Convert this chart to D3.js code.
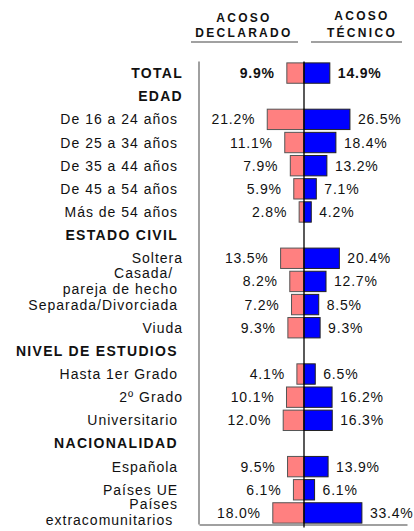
<!DOCTYPE html>
<html>
<head>
<meta charset="utf-8">
<script src="https://cdn.jsdelivr.net/npm/d3@7"></script>
<style>
  body { margin: 0; background: #fff; }
  text { font-family: "Liberation Sans", Arial, sans-serif; white-space: pre; }
</style>
</head>
<body>
<div id="chart"></div>
<script>
// row labels (trailing spaces kept as in the original layout)
var categories = [
  "TOTAL", "EDAD",
  "De 16 a 24 años ", "De 25 a 34 años ", "De 35 a 44 años ", "De 45 a 54 años ", "Más de 54 años ",
  "ESTADO CIVIL ",
  "Soltera", "Casada/  \npareja de hecho ", "Separada/Divorciada ", "Viuda",
  "NIVEL DE ESTUDIOS ",
  "Hasta 1er Grado ", "2º Grado", "Universitario ",
  "NACIONALIDAD ",
  "Española ", "Países UE ", "Países \nextracomunitarios  "
];
var headerRows = ["TOTAL", "EDAD", "ESTADO CIVIL ", "NIVEL DE ESTUDIOS ", "NACIONALIDAD "];

var declarado = [9.9, null, 21.2, 11.1, 7.9, 5.9, 2.8, null, 13.5, 8.2, 7.2, 9.3, null, 4.1, 10.1, 12.0, null, 9.5, 6.1, 18.0];
var tecnico = [14.9, null, 26.5, 18.4, 13.2, 7.1, 4.2, null, 20.4, 12.7, 8.5, 9.3, null, 6.5, 16.2, 16.3, null, 13.9, 6.1, 33.4];

var columnTitles = [["ACOSO", "DECLARADO"], ["ACOSO", "TÉCNICO"]];

var svgWidth = 414;
var svgHeight = 531;

var svg = d3.select("#chart")
  .append("svg")
  .attr("width", svgWidth)
  .attr("height", svgHeight);

var x = d3.scaleLinear()
  .domain([-60, 60])
  .range([200, 408]);

var y = d3.scaleBand()
  .domain(d3.range(categories.length))
  .range([61.5, 524.5])
  .paddingInner(0.12)
  .paddingOuter(0.06);

var rowMid = i => y(i) + y.bandwidth() / 2;

// column headers
var headerX = [244, 362];
var headerY = [[21.5, 37], [20, 36.5]];
columnTitles.forEach(function (lines, k) {
  lines.forEach(function (line, j) {
    svg.append("text")
      .attr("x", headerX[k])
      .attr("y", headerY[k][j])
      .attr("text-anchor", "middle")
      .style("font-size", "12px")
      .style("font-weight", "bold")
      .style("letter-spacing", "2.3px")
      .attr("fill", "#111")
      .text(line);
  });
});
svg.append("line").attr("x1", 191).attr("x2", 298).attr("y1", 42).attr("y2", 42)
  .attr("stroke", "#444").attr("stroke-width", 1.2);
svg.append("line").attr("x1", 311).attr("x2", 402).attr("y1", 42).attr("y2", 42)
  .attr("stroke", "#444").attr("stroke-width", 1.2);

// left separator and bottom axis
svg.append("line")
  .attr("x1", x(-60) - 1).attr("x2", x(-60) - 1)
  .attr("y1", y.range()[0]).attr("y2", y.range()[1])
  .attr("stroke", "#808080").attr("stroke-width", 1.5);

var bottomAxis = d3.axisBottom(x).tickValues([]).tickSizeOuter(0);
var axisG = svg.append("g")
  .attr("transform", `translate(-1, ${y.range()[1]})`)
  .call(bottomAxis);
axisG.select(".domain").attr("stroke", "#808080").attr("stroke-width", 1.5);

// row labels
var labels = svg.append("g");
categories.forEach(function (c, i) {
  var isHeader = headerRows.indexOf(c) >= 0;
  var parts = c.split("\n");
  var t = labels.append("text")
    .attr("text-anchor", "end")
    .style("font-size", "14px")
    .style("font-weight", isHeader ? "bold" : "normal")
    .style("letter-spacing", isHeader ? "1.3px" : "1px")
    .attr("fill", "#111");
  if (parts.length === 1) {
    t.append("tspan").attr("x", 183).attr("y", rowMid(i) + 5).text(parts[0]);
  } else {
    t.append("tspan").attr("x", 183).attr("y", rowMid(i) - 3.5).text(parts[0]);
    t.append("tspan").attr("x", 183).attr("y", rowMid(i) + 12.5).text(parts[1]);
  }
});

// bars
var rows = d3.range(categories.length).filter(i => declarado[i] !== null);

svg.selectAll("rect.decl")
  .data(rows)
  .enter()
  .append("rect")
  .attr("class", "decl")
  .attr("x", i => x(-declarado[i]))
  .attr("y", i => y(i))
  .attr("width", i => x(0) - x(-declarado[i]))
  .attr("height", y.bandwidth())
  .attr("fill", "#ff8080")
  .attr("stroke", "#555")
  .attr("stroke-width", 1);

svg.selectAll("rect.tec")
  .data(rows)
  .enter()
  .append("rect")
  .attr("class", "tec")
  .attr("x", x(0))
  .attr("y", i => y(i))
  .attr("width", i => x(tecnico[i]) - x(0))
  .attr("height", y.bandwidth())
  .attr("fill", "#0000ff")
  .attr("stroke", "#222")
  .attr("stroke-width", 1);

// value labels
var fmt = d3.format(".1f");
svg.selectAll("text.declVal")
  .data(rows)
  .enter()
  .append("text")
  .attr("class", "declVal")
  .attr("x", i => x(-declarado[i]) - 12)
  .attr("y", i => rowMid(i) + 5)
  .attr("text-anchor", "end")
  .style("font-size", "14px")
  .style("letter-spacing", "0.8px")
  .style("font-weight", i => categories[i] === "TOTAL" ? "bold" : "normal")
  .attr("fill", "#111")
  .text(i => fmt(declarado[i]) + "%");

svg.selectAll("text.tecVal")
  .data(rows)
  .enter()
  .append("text")
  .attr("class", "tecVal")
  .attr("x", i => x(tecnico[i]) + 8)
  .attr("y", i => rowMid(i) + 5)
  .attr("text-anchor", "start")
  .style("font-size", "14px")
  .style("letter-spacing", "0.8px")
  .style("font-weight", i => categories[i] === "TOTAL" ? "bold" : "normal")
  .attr("fill", "#111")
  .text(i => fmt(tecnico[i]) + "%");

// centre line
svg.append("line")
  .attr("x1", x(0)).attr("x2", x(0))
  .attr("y1", y.range()[0]).attr("y2", y.range()[1] + 3)
  .attr("stroke", "#000").attr("stroke-width", 1.3);
</script>
</body>
</html>
